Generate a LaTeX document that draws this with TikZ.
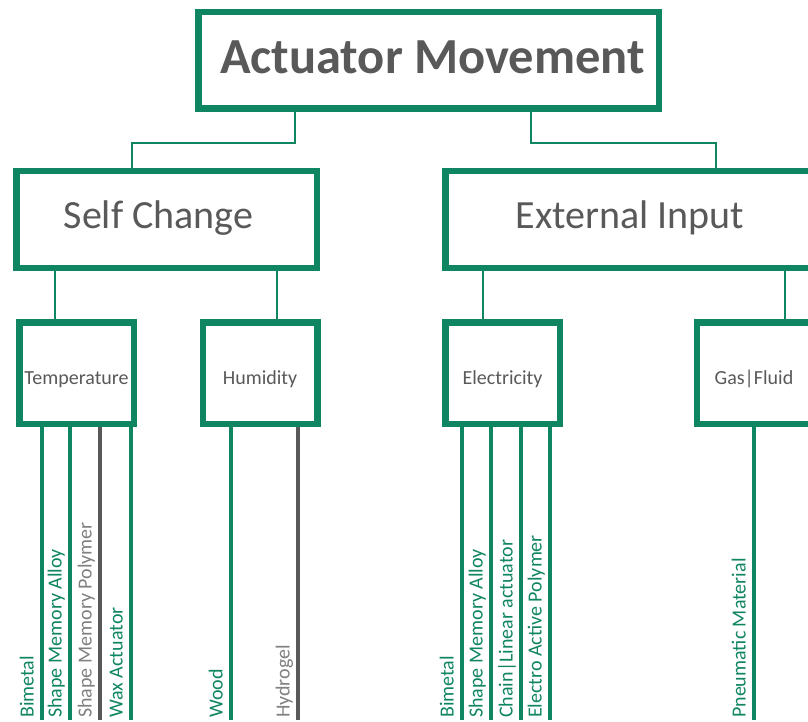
\documentclass[tikz,border=0pt]{standalone}
\usepackage{fontspec}
\setmainfont{Carlito}
\definecolor{grn}{RGB}{16,133,98}
\definecolor{txt}{RGB}{89,89,89}
\definecolor{ltxt}{RGB}{128,128,128}
\definecolor{gline}{RGB}{89,89,89}
\begin{document}
\begin{tikzpicture}[x=1pt,y=-1pt,
  box/.style={draw=grn, line width=6.5pt, fill=white, text=txt, inner sep=0pt, align=center},
  conn/.style={draw=grn, line width=2pt},
  leafg/.style={draw=grn, line width=4pt},
  leafk/.style={draw=gline, line width=4pt},
  lblg/.style={rotate=90, anchor=base west, inner sep=0pt, text=grn, font=\fontsize{20}{24}\selectfont},
  lblk/.style={rotate=90, anchor=base west, inner sep=0pt, text=ltxt, font=\fontsize{20}{24}\selectfont}]
\useasboundingbox (0,0) rectangle (808,722);
\fill[white] (0,0) rectangle (808,722);

% boxes
\node[box, minimum width=460.5pt, minimum height=96.5pt, text height=26pt, text depth=0pt,
      font=\fontsize{50.5}{60}\selectfont\bfseries] (top) at (428.5,60.5) {\hspace*{8pt}Actuator Movement};
\node[box, minimum width=300.5pt, minimum height=96.5pt, text height=17pt, text depth=0pt,
      font=\fontsize{40}{48}\selectfont] (sc) at (166.5,219.5) {Self Change\hspace*{16pt}};
\node[box, minimum width=369.5pt, minimum height=96.5pt, text height=17pt, text depth=0pt,
      font=\fontsize{40}{48}\selectfont] (ei) at (630,219.5) {External Input};

\tikzset{small/.style={box, minimum width=114.5pt, minimum height=101.5pt, text height=22pt, text depth=0pt,
      font=\fontsize{20}{24}\selectfont}}
\node[small] (temp) at (76.5,373) {Temperature};
\node[small] (hum) at (260,373) {Humidity};
\node[small] (ele) at (502.5,373) {Electricity};
\node[small] (gas) at (754,373) {Gas|Fluid};

% connectors top -> level 2
\coordinate (j1) at (295,143);
\coordinate (j2) at (132,143);
\coordinate (j3) at (531,143);
\coordinate (j4) at (716,143);
\draw[conn] (top.south -| j1) -- (j1) -- (j2) -- (sc.north -| j2);
\draw[conn] (top.south -| j3) -- (j3) -- (j4) -- (ei.north -| j4);

% level 2 -> level 3
\coordinate (k1) at (55,0);
\coordinate (k2) at (277,0);
\coordinate (k3) at (483,0);
\coordinate (k4) at (785,0);
\draw[conn] (sc.south -| k1) -- (temp.north -| k1);
\draw[conn] (sc.south -| k2) -- (hum.north -| k2);
\draw[conn] (ei.south -| k3) -- (ele.north -| k3);
\draw[conn] (ei.south -| k4) -- (gas.north -| k4);

% leaf line ends
\coordinate (e1) at (42,720);
\coordinate (e2) at (70,720);
\coordinate (e3) at (100,720);
\coordinate (e4) at (131,720);
\coordinate (e5) at (231,720);
\coordinate (e6) at (298,720);
\coordinate (e7) at (462,720);
\coordinate (e8) at (491,720);
\coordinate (e9) at (521,720);
\coordinate (e10) at (550,720);
\coordinate (e11) at (754,720);

\draw[leafg] (temp.south -| e1) -- (e1);
\draw[leafg] (temp.south -| e2) -- (e2);
\draw[leafk] (temp.south -| e3) -- (e3);
\draw[leafg] (temp.south -| e4) -- (e4);
\draw[leafg] (hum.south -| e5) -- (e5);
\draw[leafk] (hum.south -| e6) -- (e6);
\draw[leafg] (ele.south -| e7) -- (e7);
\draw[leafg] (ele.south -| e8) -- (e8);
\draw[leafg] (ele.south -| e9) -- (e9);
\draw[leafg] (ele.south -| e10) -- (e10);
\draw[leafg] (gas.south -| e11) -- (e11);

% labels
\node[lblg] (l1) at (33.5,718) {Bimetal};
\node[lblg] (l2) at (61.5,718) {Shape Memory Alloy};
\node[lblk] (l3) at (91.5,718) {Shape Memory Polymer};
\node[lblg] (l4) at (122.5,718) {Wax Actuator};
\node[lblg] (l5) at (222.5,718) {Wood};
\node[lblk] (l6) at (289.5,718) {Hydrogel};
\node[lblg] (l7) at (453.5,718) {Bimetal};
\node[lblg] (l8) at (482.5,718) {Shape Memory Alloy};
\node[lblg] (l9) at (512.5,718) {Chain|Linear actuator};
\node[lblg] (l10) at (541.5,718) {Electro Active Polymer};
\node[lblg] (l11) at (745.5,718) {Pneumatic Material};
\end{tikzpicture}
\end{document}
